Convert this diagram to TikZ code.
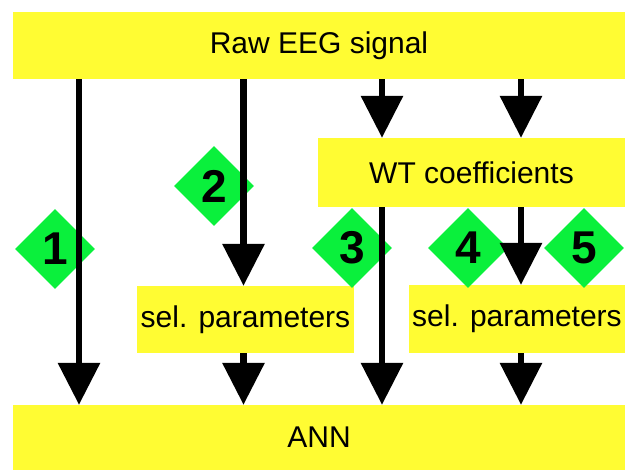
\documentclass[tikz,border=0pt]{standalone}
\usepackage{fontspec}
\setmainfont{Liberation Sans}
\usetikzlibrary{arrows.meta,shapes.geometric}
\definecolor{boxyellow}{RGB}{255,252,51}
\definecolor{tagreen}{RGB}{10,240,60}
\begin{document}
\begin{tikzpicture}[x=1pt,y=-1pt,
  ybox/.style={rectangle,fill=boxyellow,inner sep=0pt,font=\fontsize{30}{34}\selectfont},
  tag/.style={diamond,fill=tagreen,minimum width=80pt,minimum height=80pt,inner sep=0pt,font=\fontsize{46}{50}\selectfont\bfseries},
  arr/.style={line width=6.5pt,-{Triangle[width=41pt,length=42pt]}},
  plain/.style={line width=6.5pt}]
\useasboundingbox (0,0) rectangle (625,470);
% boxes
\node[ybox,minimum width=612pt,minimum height=67pt] (raw) at (319,45.5) {Raw EEG signal};
\node[ybox,minimum width=307pt,minimum height=69pt] (wt) at (471.5,172.5) {WT coefficients};
\node[ybox,minimum width=217pt,minimum height=67pt] (selL) at (245.5,319.5) {sel. parameters};
\node[ybox,minimum width=216pt,minimum height=68pt] (selR) at (517,319) {sel. parameters};
\node[ybox,minimum width=612pt,minimum height=65pt] (ann) at (319,437.5) {ANN};
% tags
\node[tag] (t1) at (55,249) {1};
\node[tag] (t2) at (214,186) {2};
\node[tag] (t3) at (352,248) {3};
\node[tag] (t4) at (468,248) {4};
\node[tag] (t5) at (584,248) {5};
% columns
\coordinate (c1) at (79,0);
\coordinate (c2) at (243.5,0);
\coordinate (c3) at (382,0);
\coordinate (c4) at (521,0);
% connectors
\draw[arr] (raw.south -| c1) -- (ann.north -| c1);
\draw[arr] (raw.south -| c2) -- (selL.north -| c2);
\draw[arr] (selL.south -| c2) -- (ann.north -| c2);
\draw[arr] (raw.south -| c3) -- (wt.north -| c3);
\draw[arr] (wt.south -| c3) -- (ann.north -| c3);
\draw[arr] (raw.south -| c4) -- (wt.north -| c4);
\draw[arr] (wt.south -| c4) -- (selR.north -| c4);
\draw[arr] (selR.south -| c4) -- (ann.north -| c4);
\end{tikzpicture}
\end{document}
